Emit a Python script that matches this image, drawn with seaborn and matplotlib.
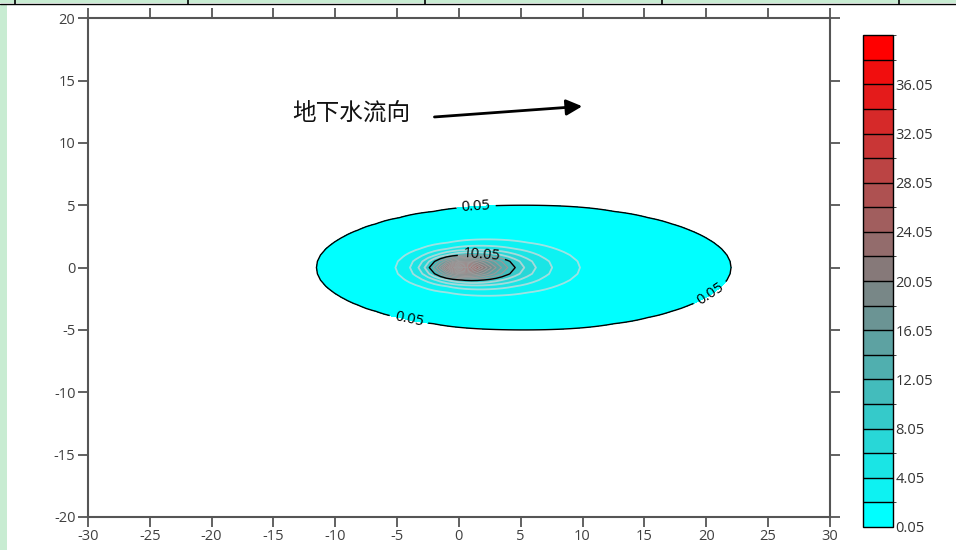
import numpy as np
import matplotlib
matplotlib.use("Agg")
import matplotlib.pyplot as plt
import seaborn as sns
from matplotlib.colors import BoundaryNorm
from matplotlib.patches import Rectangle
from matplotlib.lines import Line2D

# plume: peak at the source, 0.05 contour from x=-11.5 to 22, |y|<=5
peak_conc = 40.0
source_xy = (0.0, 0.0)
drift_ecc = 0.313        # downstream shift of the contours (focus of the ellipses at the source)
cross_ratio = 0.314      # transverse / longitudinal spread
decay_rate = 0.442       # per unit of distance

level_min = 0.05
level_max = 40.05
level_step = 2.0
black_levels = [0.05, 10.05]
cbar_ticks = [0.05, 4.05, 8.05, 12.05, 16.05, 20.05, 24.05, 28.05, 32.05, 36.05]
x_ticks = list(range(-30, 31, 5))
y_ticks = list(range(-20, 21, 5))
cmap_colors = ["#00ffff", "#808080", "#ff0000"]
flow_label = "地下水流向"

sns.set_style("ticks")
plt.rcParams["font.family"] = ["Open Sans", "Noto Sans CJK SC", "DejaVu Sans"]
plt.rcParams["axes.unicode_minus"] = False

gx = np.arange(-30, 30.01, 0.5)
gy = np.arange(-20, 20.01, 0.5)
X, Y = np.meshgrid(gx, gy)
dx = X - source_xy[0]
dy = Y - source_xy[1]
dist = np.sqrt(dx ** 2 + (dy / cross_ratio) ** 2)
C = peak_conc * np.exp(-decay_rate * (dist - drift_ecc * dx))

levels = np.arange(level_min, level_max + 1e-6, level_step)
cmap = sns.blend_palette(cmap_colors, as_cmap=True)
norm = BoundaryNorm(levels, cmap.N)

fig = plt.figure(figsize=(9.56, 5.5), dpi=100)
ax = fig.add_axes([0.092, 0.06, 0.776, 0.907])
cax = fig.add_axes([0.903, 0.042, 0.031, 0.894])

cf = ax.contourf(X, Y, C, levels=levels, cmap=cmap, norm=norm)

light = [lv for lv in levels if lv not in black_levels and lv < 10]
dark = [lv for lv in levels if lv not in black_levels and lv > 10]
ax.contour(X, Y, C, levels=light, colors="#dcdcdc", linewidths=1.3, alpha=0.7)
ax.contour(X, Y, C, levels=dark, colors="#9a9a9a", linewidths=0.8)
cs = ax.contour(X, Y, C, levels=black_levels, colors="black", linewidths=1.0)
ax.clabel(cs, fmt="%.2f", fontsize=10.5, inline=True,
          manual=[(1.4, 4.8), (-4.1, -4.4), (20.3, -2.0), (1.8, 0.5)])

ax.annotate("", xy=(10.2, 12.95), xytext=(-2.2, 12.06),
            arrowprops=dict(arrowstyle="-|>", color="black", lw=2, mutation_scale=24))
ax.text(-8.7, 12.4, flow_label, ha="center", va="center", fontsize=17,
        family=["Noto Sans CJK SC", "DejaVu Sans"], color="#111111")

ax.set_xlim(-30, 30)
ax.set_ylim(-20, 20)
ax.set_xticks(x_ticks)
ax.set_yticks(y_ticks)
ax.tick_params(top=True, right=True, direction="out", length=7, width=1.3,
               color="#555555", labelcolor="#404040", labelsize=10.5, pad=2)
for sp in ax.spines.values():
    sp.set_visible(True)
    sp.set_color("#555555")
    sp.set_linewidth(1.5)

cb = fig.colorbar(cf, cax=cax, ticks=cbar_ticks, drawedges=True)
cb.outline.set_edgecolor("black")
cb.outline.set_linewidth(1.0)
cb.dividers.set_color("black")
cb.dividers.set_linewidth(1.0)
cax.set_yticklabels([f"{t:.2f}" for t in cbar_ticks])
cax.tick_params(length=0, labelsize=10.5, labelcolor="#333333", pad=2)

# page frame around the screenshot
green = "#c8ecd2"
fig.add_artist(Rectangle((0, 0), 7 / 956, 546 / 550, transform=fig.transFigure,
                         facecolor=green, edgecolor="none"))
fig.add_artist(Rectangle((0, 547 / 550), 1, 3 / 550, transform=fig.transFigure,
                         facecolor=green, edgecolor="none"))
fig.add_artist(Line2D([0, 1], [546.5 / 550, 546.5 / 550], transform=fig.transFigure,
                      color="black", lw=1))
for px in [15, 188, 425, 662, 899]:
    fig.add_artist(Line2D([px / 956, px / 956], [546.5 / 550, 1], transform=fig.transFigure,
                          color="black", lw=1.2))

fig.savefig("out.png", dpi=100)
